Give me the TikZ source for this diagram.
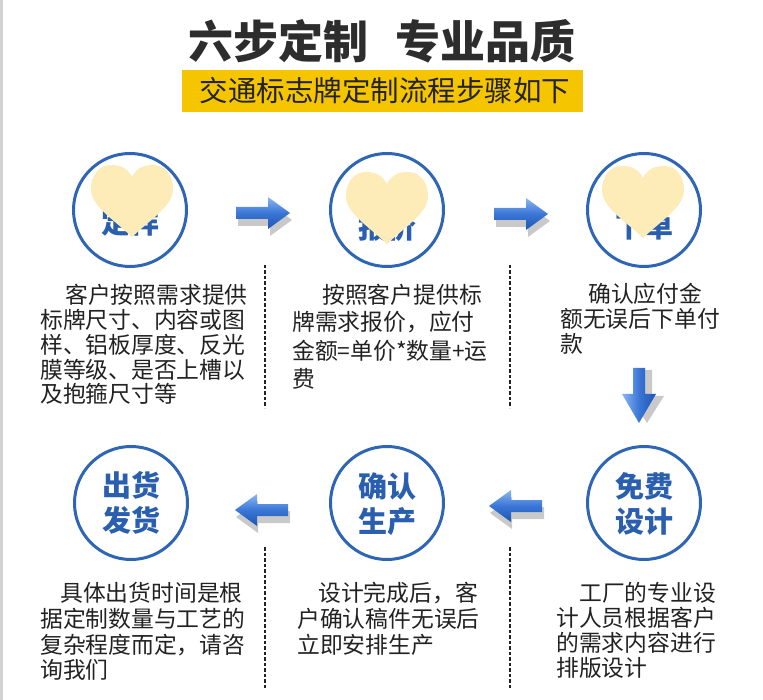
\documentclass[tikz,border=0pt]{standalone}
\usepackage{fontspec}
\newfontfamily\cjk{Noto Sans CJK SC}
\definecolor{cblue}{HTML}{2E66B5}
\definecolor{lblue}{HTML}{2A5FB0}
\definecolor{yel}{HTML}{F5C500}
\definecolor{titlec}{HTML}{2D2D2D}
\definecolor{bodyc}{HTML}{222222}
\definecolor{heartc}{HTML}{FDEBB8}
\definecolor{shadowc}{HTML}{C9C9C9}
\definecolor{arrtop}{HTML}{8AB6F4}
\definecolor{arrmid}{HTML}{3A76D6}
\definecolor{arrbot}{HTML}{1F55B2}
\definecolor{bordergray}{HTML}{D2D2D2}
\begin{document}
\begin{tikzpicture}[x=1pt,y=-1pt,
  circ/.style={circle, draw=cblue, line width=3pt, minimum size=113pt, inner sep=0pt},
  lab/.style={font=\cjk\bfseries\fontsize{29pt}{35pt}\selectfont, text=lblue, inner sep=0pt, align=center},
  body/.style={font=\cjk\fontsize{22.8pt}{25pt}\selectfont, text=bodyc, inner sep=0pt, anchor=west},
  dashline/.style={draw=bodyc, line width=1.8pt, dash pattern=on 3.5pt off 2pt},
  heart/.style={fill=heartc},
  shade arrow/.style={top color=arrtop, bottom color=arrbot, middle color=arrmid},
  arrshadow/.style={fill=shadowc}
]
\useasboundingbox (0,0) rectangle (763,700);
\fill[white] (0,0) rectangle (763,700);
\draw[line width=3pt, bordergray] (1.5,0) -- (1.5,700);

% title
\node[font=\cjk\bfseries\fontsize{45pt}{52pt}\selectfont, text=titlec, inner sep=0pt] (title) at (382,41) {六步定制\hspace{28pt}专业品质};
\fill[yel] (182,70) rectangle (583,112);
\node[font=\cjk\fontsize{28.5pt}{32pt}\selectfont, text=bodyc, inner sep=0pt] (sub) at (385,91) {交通标志牌定制流程步骤如下};

% circles
\node[circ] (c1) at (130,210) {};
\node[circ] (c2) at (387,210) {};
\node[circ] (c3) at (644,210) {};
\node[circ] (c4) at (644,503) {};
\node[circ] (c5) at (387,503) {};
\node[circ] (c6) at (131,503) {};

\node[lab] (l1) at (130,222) {定样};
\node[lab] (l2) at (387,228) {报价};
\node[lab] (l3) at (644,226) {下单};
\node[lab] (l4) at (644,504) {免费\\设计};
\node[lab] (l5) at (387,504) {确认\\生产};
\node[lab] (l6) at (131,503) {出货\\发货};

% hearts
\foreach \cx/\yo in {132/165, 387/172, 643/166}{
  \fill[heart] (\cx,\yo+12) .. controls (\cx-5,\yo+2) and (\cx-13,\yo) .. (\cx-21,\yo)
     .. controls (\cx-33,\yo) and (\cx-41,\yo+10) .. (\cx-41,\yo+24)
     .. controls (\cx-41,\yo+41) and (\cx-20,\yo+53) .. (\cx,\yo+72)
     .. controls (\cx+20,\yo+53) and (\cx+41,\yo+41) .. (\cx+41,\yo+24)
     .. controls (\cx+41,\yo+10) and (\cx+33,\yo) .. (\cx+21,\yo)
     .. controls (\cx+13,\yo) and (\cx+5,\yo+2) .. (\cx,\yo+12) -- cycle;
}

% right arrows
\foreach \ox/\oy in {236/213, 494/214}{
  \begin{scope}[shift={(\ox,\oy)}]
    \fill[arrshadow] (2,1) -- (34,1) -- (34,-9) -- (56,7) -- (34,23) -- (34,13) -- (2,13) -- cycle;
    \shade[shade arrow] (0,-6) -- (32,-6) -- (32,-16) -- (54,0) -- (32,16) -- (32,6) -- (0,6) -- cycle;
  \end{scope}
}
% left arrows
\foreach \ox/\oy in {288/510, 542/506}{
  \begin{scope}[shift={(\ox,\oy)}, xscale=-1]
    \fill[arrshadow] (-2,1) -- (30,1) -- (30,-9) -- (52,7) -- (30,23) -- (30,13) -- (-2,13) -- cycle;
    \shade[shade arrow] (0,-6) -- (31,-6) -- (31,-16) -- (53,0) -- (31,16) -- (31,6) -- (0,6) -- cycle;
  \end{scope}
}
% down arrow
\fill[arrshadow] (644,370) -- (652,370) -- (652,396) -- (664,396) -- (647,423) -- (630,396) -- (644,396) -- cycle;
\shade[left color=arrtop, right color=arrbot, middle color=arrmid] (633,368) -- (645,368) -- (645,394) -- (656,394) -- (639,423) -- (622,394) -- (633,394) -- cycle;

% dashed separators
\coordinate (d1a) at (265,265); \coordinate (d1b) at (265,408);
\coordinate (d2a) at (510,265); \coordinate (d2b) at (510,408);
\coordinate (d3a) at (265,547); \coordinate (d3b) at (265,688);
\coordinate (d4a) at (510,547); \coordinate (d4b) at (510,688);
\draw[dashline] (d1a) -- (d1b);
\draw[dashline] (d2a) -- (d2b);
\draw[dashline] (d3a) -- (d3b);
\draw[dashline] (d4a) -- (d4b);

% body text, block 1
\node[body] (t1a) at (65,295) {客户按照需求提供};
\node[body] (t1b) at (40,320) {标牌尺寸、内容或图};
\node[body] (t1c) at (40,345) {样、铝板厚度、反光};
\node[body] (t1d) at (40,370) {膜等级、是否上槽以};
\node[body] (t1e) at (40,394) {及抱箍尺寸等};
% block 2
\node[body] (t2a) at (322,295) {按照客户提供标};
\node[body] (t2b) at (292,322) {牌需求报价，应付};
\node[body] (t2c) at (292,351) {金额=单价*数量+运};
\node[body] (t2d) at (292,379) {费};
% block 3
\node[body] (t3a) at (588,294) {确认应付金};
\node[body] (t3b) at (560,319) {额无误后下单付};
\node[body] (t3c) at (560,344) {款};
% row 2 block 1
\node[body] (t4a) at (60,593) {具体出货时间是根};
\node[body] (t4b) at (40,619) {据定制数量与工艺的};
\node[body] (t4c) at (40,645) {复杂程度而定，请咨};
\node[body] (t4d) at (40,670) {询我们};
% row 2 block 2
\node[body] (t5a) at (318,593) {设计完成后，客};
\node[body] (t5b) at (297,619) {户确认稿件无误后};
\node[body] (t5c) at (297,645) {立即安排生产};
% row 2 block 3
\node[body] (t6a) at (579,593) {工厂的专业设};
\node[body] (t6b) at (556,618) {计人员根据客户};
\node[body] (t6c) at (556,643) {的需求内容进行};
\node[body] (t6d) at (556,668) {排版设计};
\end{tikzpicture}
\end{document}
